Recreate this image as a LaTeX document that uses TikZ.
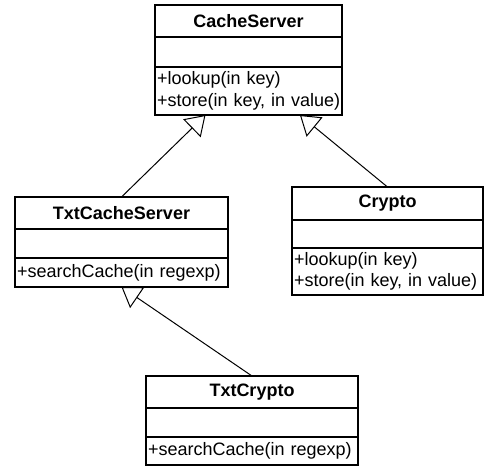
\documentclass[tikz,border=0pt]{standalone}
\usepackage{fontspec}
\setmainfont{Liberation Sans}
\usetikzlibrary{arrows.meta,calc}
\tikzset{
  comp/.style={draw, line width=1.4pt, anchor=north west, inner sep=0pt, outer sep=0pt,
    font=\fontsize{18pt}{21.5pt}\selectfont},
  titlebox/.style={comp, font=\fontsize{18pt}{21.5pt}\selectfont\bfseries},
  opsbox/.style={comp, align=left, inner xsep=2pt},
  gen/.style={line width=1pt, -{Triangle[open,length=19pt,width=25pt,line width=1pt]}}
}
\begin{document}
\begin{tikzpicture}[x=1pt,y=-1pt]
\useasboundingbox (0,0) rectangle (484,468);
% CacheServer
\node[titlebox, minimum width=187pt, minimum height=32pt] (cs) at (155,5) {CacheServer};
\node[comp, minimum width=187pt, minimum height=30pt] (cs-a) at (cs.south west) {};
\node[opsbox, minimum width=187pt, text width=183pt, minimum height=48pt] (cs-o) at (cs-a.south west) {\mbox{+lookup(in key)}\\\mbox{+store(in key, in value)}};
% TxtCacheServer
\node[titlebox, minimum width=213pt, minimum height=32pt] (tcs) at (15,197) {TxtCacheServer};
\node[comp, minimum width=213pt, minimum height=29pt] (tcs-a) at (tcs.south west) {};
\node[opsbox, minimum width=213pt, text width=209pt, minimum height=29pt] (tcs-o) at (tcs-a.south west) {\mbox{+searchCache(in regexp)}};
% Crypto
\node[titlebox, minimum width=191pt, minimum height=33pt] (cr) at (292,187) {Crypto};
\node[comp, minimum width=191pt, minimum height=28pt] (cr-a) at (cr.south west) {};
\node[opsbox, minimum width=191pt, text width=187pt, minimum height=47pt] (cr-o) at (cr-a.south west) {\mbox{+lookup(in key)}\\\mbox{+store(in key, in value)}};
% TxtCrypto
\node[titlebox, minimum width=212pt, minimum height=32pt] (tc) at (146,376) {TxtCrypto};
\node[comp, minimum width=212pt, minimum height=29pt] (tc-a) at (tc.south west) {};
\node[opsbox, minimum width=212pt, text width=208pt, minimum height=28pt] (tc-o) at (tc-a.south west) {\mbox{+searchCache(in regexp)}};
% generalizations
\draw[gen] (tcs.north) -- ($(cs-o.south west)!0.27!(cs-o.south east)$);
\draw[gen] (cr.north) -- ($(cs-o.south west)!0.775!(cs-o.south east)$);
\draw[gen] (tc.north) -- ($(tcs-o.south west)!0.5!(tcs-o.south east)$);
\end{tikzpicture}
\end{document}
